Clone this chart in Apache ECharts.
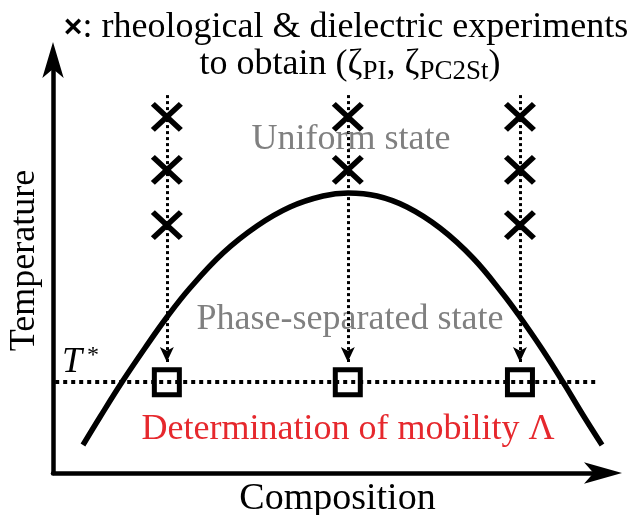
<!DOCTYPE html>
<html><head><meta charset="utf-8">
<script src="https://cdn.jsdelivr.net/npm/echarts@6/dist/echarts.min.js"></script>
<style>html,body{margin:0;padding:0;background:#fff}#c{width:638px;height:515px}</style>
</head><body><div id="c"></div>
<script>
// Phase boundary curve (composition, temperature)
const curveX = [5.45, 8.55, 12.55, 16.73, 20.73, 24.91, 30.91, 37.09, 43.09, 49.09, 53.64, 58.91, 64.36, 70.36, 76.36, 81.82, 84.91, 88.91, 92.73, 96.36, 99.82];
const curveY = [6.78, 13.56, 22.03, 30.27, 37.77, 44.79, 53.27, 59.81, 64.41, 67.07, 67.80, 67.07, 64.41, 59.32, 52.06, 43.34, 37.77, 30.02, 22.03, 14.04, 6.78];
// Sample compositions
const sampleX = [20.7, 53.6, 84.9];
// Temperatures of rheological & dielectric experiments for each composition
const expTemps = [[86.2, 73.4, 60.0], [86.2, 73.4], [86.2, 73.4, 60.0]];
// T* level and guide arrows
const tStar = 22.0;
const guideTop = 91.5;
const guideEnd = 26.9;
const tStarLineX = [0.4, 98.9];

const serif = 'Liberation Serif';
const chart = echarts.init(document.getElementById('c'), null, {renderer: 'canvas'});

const curveData = curveX.map((x, i) => [x, curveY[i]]);
const crossData = [];
expTemps.forEach((ts, i) => ts.forEach(t => crossData.push([sampleX[i], t])));
const squareData = sampleX.map(x => [x, tStar]);
const guideData = sampleX.map(x => ({coords: [[x, guideTop], [x, guideEnd]]}));

chart.setOption({
  animation: false,
  backgroundColor: '#fff',
  grid: {left: 53, right: 35, top: 60, bottom: 42, containLabel: false, outerBoundsMode: 'none'},
  xAxis: {
    type: 'value', min: 0, max: 100,
    axisLine: {show: true, lineStyle: {color: '#000', width: 4.5}, symbol: ['none', 'arrow'], symbolSize: [16, 38], symbolOffset: [0, 19]},
    axisTick: {show: false}, axisLabel: {show: false}, splitLine: {show: false},
    name: 'Composition', nameLocation: 'middle', nameGap: 7,
    nameTextStyle: {fontFamily: serif, fontSize: 38, color: '#000', padding: [0, 0, 0, 19]}
  },
  yAxis: {
    type: 'value', min: 0, max: 100,
    axisLine: {show: true, lineStyle: {color: '#000', width: 4.5}, symbol: ['none', 'arrow'], symbolSize: [16, 36], symbolOffset: [0, 18]},
    axisTick: {show: false}, axisLabel: {show: false}, splitLine: {show: false},
    name: 'Temperature', nameLocation: 'middle', nameGap: 10,
    nameTextStyle: {fontFamily: serif, fontSize: 36, color: '#000', padding: [0, 0, 0, 12]}
  },
  series: [
    {
      type: 'line', data: curveData, smooth: 0.4, showSymbol: false, silent: true,
      lineStyle: {color: '#000', width: 5.5}, z: 2
    },
    {
      type: 'lines', coordinateSystem: 'cartesian2d', silent: true,
      data: [{coords: [[tStarLineX[0], tStar], [tStarLineX[1], tStar]]}],
      lineStyle: {color: '#000', width: 4, type: [4, 4], opacity: 1},
      symbol: ['none', 'none'], z: 3
    },
    {
      type: 'lines', coordinateSystem: 'cartesian2d', silent: true,
      data: guideData,
      lineStyle: {color: '#000', width: 3, type: [3, 3], opacity: 1},
      symbol: ['none', 'arrow'], symbolSize: [[1, 1], [10.5, 15]], z: 3
    },
    {
      type: 'scatter', data: crossData, silent: true,
      symbol: 'path://M0,0L10,10M10,0L0,10', symbolSize: [28, 26],
      itemStyle: {color: 'rgba(0,0,0,0)', borderColor: '#000', borderWidth: 5.5, opacity: 1}, z: 4
    },
    {
      type: 'scatter', data: squareData, silent: true,
      symbol: 'rect', symbolSize: 25,
      itemStyle: {color: 'rgba(0,0,0,0)', borderColor: '#000', borderWidth: 5, opacity: 1}, z: 4
    }
  ],
  graphic: [
    {type: 'text', x: 346, y: 28, z: 10, silent: true, style: {
      text: '{x|×}: rheological & dielectric experiments',
      fontFamily: serif, fontSize: 36, fill: '#000', align: 'center', verticalAlign: 'middle',
      rich: {x: {fontFamily: 'Liberation Sans', fontWeight: 'bold', fontSize: 32, fill: '#000'}}
    }},
    {type: 'text', x: 350, y: 65, z: 10, silent: true, style: {
      text: 'to obtain (ζ{s|PI}, ζ{s|PC2St})',
      fontFamily: serif, fontSize: 36, lineHeight: 40, fill: '#000', align: 'center', verticalAlign: 'middle',
      rich: {s: {fontFamily: serif, fontSize: 27, lineHeight: 26, verticalAlign: 'bottom', fill: '#000'}}
    }},
    {type: 'text', x: 351, y: 140, z: 10, silent: true, style: {
      text: 'Uniform state', fontFamily: serif, fontSize: 36, fill: '#808080', align: 'center', verticalAlign: 'middle'
    }},
    {type: 'text', x: 350, y: 320, z: 1, silent: true, style: {
      text: 'Phase-separated state', fontFamily: serif, fontSize: 36, fill: '#808080', align: 'center', verticalAlign: 'middle'
    }},
    {type: 'text', x: 348, y: 430, z: 10, silent: true, style: {
      text: 'Determination of mobility Λ', fontFamily: serif, fontSize: 36, fill: '#e6282d', align: 'center', verticalAlign: 'middle'
    }},
    {type: 'text', x: 62, y: 363, z: 10, silent: true, style: {
      text: 'T', fontFamily: serif, fontStyle: 'italic', fontSize: 36, fill: '#000', align: 'left', verticalAlign: 'middle'
    }},
    {type: 'text', x: 87, y: 356, z: 10, silent: true, style: {
      text: '*', fontFamily: serif, fontSize: 24, fill: '#000', align: 'left', verticalAlign: 'middle'
    }}
  ]
});
</script></body></html>
